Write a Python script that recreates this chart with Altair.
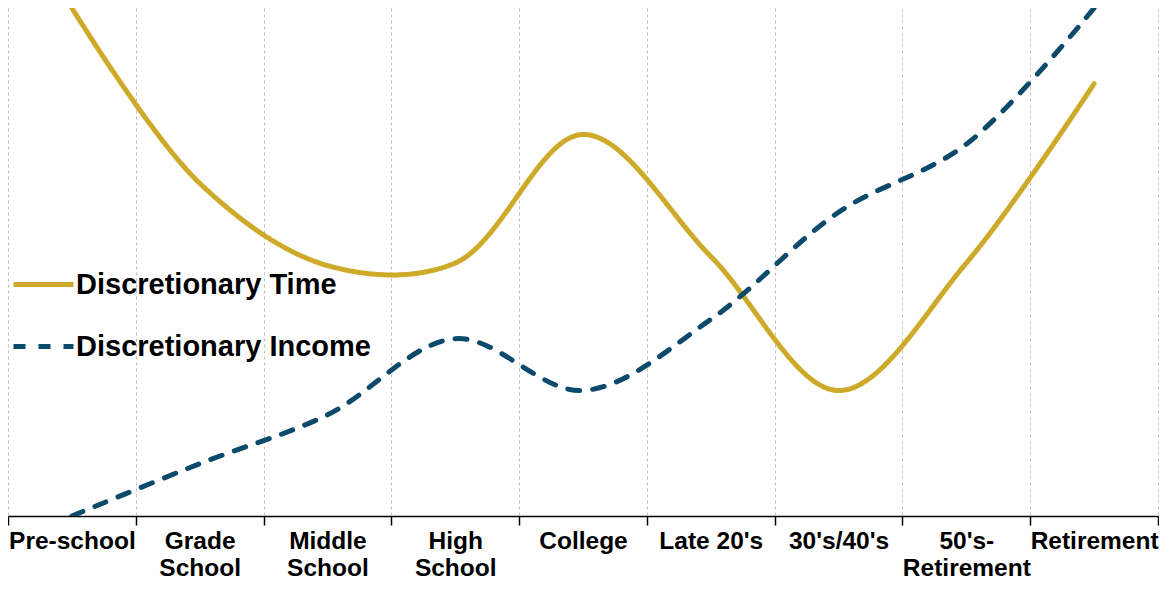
import altair as alt
import pandas as pd

categories = ["Pre-school", "Grade|School", "Middle|School", "High|School", "College",
              "Late 20's", "30's/40's", "50's-|Retirement", "Retirement"]
time_values = [100, 65.5, 49.3, 49.8, 75.1, 51.1, 24.7, 49.8, 85.1]
income_values = [0, 10.3, 19.9, 34.9, 24.7, 38.7, 59.8, 73.2, 100]
series = ["Discretionary Time", "Discretionary Income"]
colors = ["#CDAA2A", "#0B4A6B"]

rows = []
for i, c in enumerate(categories):
    rows.append({"pos": i + 0.5, "value": time_values[i], "series": series[0]})
for i, c in enumerate(categories):
    rows.append({"pos": i + 0.5, "value": income_values[i], "series": series[1]})
df = pd.DataFrame(rows)

arr = "[" + ",".join("'" + c.replace("'", "\\'") + "'" for c in categories) + "]"
label_expr = f"datum.value < {len(categories)} ? split({arr}[datum.value], '|') : ''"

W = 1150
H = 508
n = len(categories)

chart = alt.Chart(df).mark_line(
    interpolate="catmull-rom", strokeWidth=5, strokeCap="round", clip=True
).encode(
    x=alt.X("pos:Q",
            scale=alt.Scale(domain=[0, n], nice=False, zero=False),
            axis=alt.Axis(values=list(range(n + 1)), labelExpr=label_expr, title=None,
                          labelOffset=W / n / 2, labelFlush=False, labelOverlap=False,
                          labelBound=False, labelAlign="center")),
    y=alt.Y("value:Q", scale=alt.Scale(domain=[0, 100]), axis=None),
    color=alt.Color("series:N", scale=alt.Scale(domain=series, range=colors),
                    legend=alt.Legend(title=None)),
    strokeDash=alt.StrokeDash("series:N", scale=alt.Scale(domain=series, range=[[1, 0], [12, 13]]),
                              legend=alt.Legend(title=None)),
).properties(
    width=W, height=H,
    autosize=alt.AutoSizeParams(type="none"),
    padding={"left": 0, "top": 0, "right": 1, "bottom": 66},
).configure_view(stroke=None).configure_axis(
    domainColor="black", domainWidth=1.5, tickColor="black", tickSize=9, tickWidth=1.5,
    gridColor="#BFBFBF", gridDash=[3, 3], gridWidth=1,
    labelFont="Liberation Sans", labelFontSize=24.5, labelFontWeight="bold",
    labelColor="black", labelLineHeight=27, labelPadding=4,
).configure_legend(
    orient="none", legendX=3, legendY=244, symbolType="stroke", symbolSize=3600,
    symbolStrokeWidth=5, labelFont="Liberation Sans", labelFontSize=29,
    labelFontWeight="bold", labelColor="black", rowPadding=14, labelOffset=0, padding=0,
    labelLimit=600,
)

chart.save("out.html", embed_options={"renderer": "svg", "actions": False})
